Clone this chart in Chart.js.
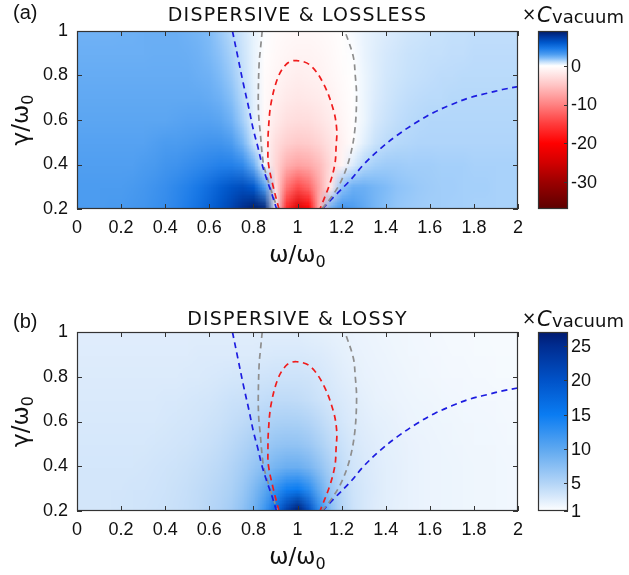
<!DOCTYPE html>
<html>
<head>
<meta charset="utf-8">
<script src="https://cdn.jsdelivr.net/npm/chart.js@4.4.0/dist/chart.umd.min.js"></script>
<style>
  body { margin: 0; background: #fff; width: 629px; height: 575px; overflow: hidden; }
  canvas { display: block; }
</style>
</head>
<body>
<canvas id="lossless" width="629" height="300"></canvas>
<canvas id="lossy" width="629" height="275"></canvas>
<script>
  // ---- axes ----
  const omegaTicks = [0, 0.2, 0.4, 0.6, 0.8, 1, 1.2, 1.4, 1.6, 1.8, 2];
  const omegaTickLabels = ['0', '0.2', '0.4', '0.6', '0.8', '1', '1.2', '1.4', '1.6', '1.8', '2'];
  const gammaTicks = [0.2, 0.4, 0.6, 0.8, 1];
  const gammaTickLabels = ['0.2', '0.4', '0.6', '0.8', '1'];

  // ---- heatmap grid (cell centres) ----
  const omegaGrid = [0, 0.05, 0.1, 0.15, 0.2, 0.25, 0.3, 0.35, 0.4, 0.45, 0.5, 0.55, 0.6, 0.65, 0.7, 0.75, 0.8, 0.85, 0.9, 0.95,
    1, 1.05, 1.1, 1.15, 1.2, 1.25, 1.3, 1.35, 1.4, 1.45, 1.5, 1.55, 1.6, 1.65, 1.7, 1.75, 1.8, 1.85, 1.9, 1.95, 2];
  const gammaGrid = [0.2, 0.3, 0.4, 0.5, 0.6, 0.7, 0.8, 0.9, 1.0];

  // (a) dispersive & lossless, x C_vacuum, one row per gamma
  const losslessG02 = [3.0,3.0,3.0,3.1,3.1,3.2,3.3,3.5,3.7,4.0, 4.4,4.9,5.5,6.2,7.0,8.0,8.8,8.5,0.5,-17, -24,-20,-6,2.5,3.4,3.0,2.6,2.2,1.9,1.7, 1.6,1.55,1.5,1.5,1.45,1.45,1.4,1.4,1.4,1.4,1.4];
  const losslessG03 = [3.0,3.0,3.0,3.0,3.0,3.1,3.2,3.4,3.6,3.9, 4.2,4.6,5.1,5.7,6.2,6.5,6.0,3.0,-3,-11, -14,-12,-7,-1.8,1.8,2.4,2.4,2.2,2.0,1.8, 1.7,1.6,1.55,1.5,1.5,1.45,1.45,1.45,1.4,1.4,1.4];
  const losslessG04 = [2.9,2.9,2.9,2.9,2.9,2.9,3.0,3.1,3.3,3.4, 3.6,3.8,4.0,4.2,4.2,3.8,2.4,0.2,-3.5,-6.5, -7.5,-7.0,-5.5,-3.0,-0.9,0.6,1.2,1.45,1.55,1.55, 1.5,1.5,1.5,1.45,1.45,1.45,1.4,1.4,1.4,1.4,1.4];
  const losslessG05 = [2.8,2.8,2.8,2.8,2.8,2.8,2.8,2.9,3.0,3.0, 3.1,3.2,3.3,3.3,3.0,2.2,0.9,-0.8,-2.8,-4.0, -4.5,-4.2,-3.5,-2.3,-1.1,-0.2,0.5,0.9,1.1,1.2, 1.25,1.3,1.3,1.3,1.3,1.3,1.3,1.3,1.3,1.3,1.3];
  const losslessG06 = [2.7,2.7,2.7,2.7,2.7,2.7,2.7,2.7,2.7,2.75, 2.8,2.8,2.8,2.7,2.3,1.5,0.5,-0.6,-1.8,-2.6, -2.9,-2.8,-2.3,-1.6,-0.8,-0.2,0.3,0.7,0.9,1.05, 1.15,1.2,1.25,1.25,1.25,1.25,1.25,1.25,1.25,1.25,1.25];
  const losslessG07 = [2.6,2.6,2.6,2.6,2.6,2.6,2.6,2.6,2.6,2.6, 2.6,2.6,2.5,2.3,1.9,1.2,0.5,-0.4,-1.2,-1.8, -2.0,-1.9,-1.6,-1.1,-0.5,-0.1,0.3,0.6,0.8,0.95, 1.05,1.1,1.15,1.15,1.2,1.2,1.2,1.2,1.2,1.2,1.2];
  const losslessG08 = [2.5,2.5,2.5,2.5,2.5,2.5,2.5,2.5,2.5,2.5, 2.5,2.4,2.3,2.0,1.6,1.0,0.4,-0.3,-0.8,-1.2, -1.4,-1.3,-1.1,-0.7,-0.3,0.0,0.3,0.55,0.75,0.85, 0.95,1.0,1.05,1.1,1.1,1.15,1.15,1.15,1.15,1.15,1.15];
  const losslessG09 = [2.4,2.4,2.4,2.4,2.4,2.4,2.4,2.45,2.45,2.45, 2.4,2.3,2.1,1.8,1.4,0.9,0.4,-0.1,-0.5,-0.8, -0.9,-0.9,-0.8,-0.5,-0.2,0.05,0.35,0.55,0.7,0.8, 0.9,0.95,1.0,1.0,1.05,1.05,1.1,1.1,1.1,1.1,1.1];
  const losslessG10 = [2.3,2.3,2.3,2.3,2.35,2.35,2.4,2.4,2.4,2.4, 2.3,2.2,2.0,1.6,1.2,0.8,0.4,0.05,-0.3,-0.5, -0.6,-0.6,-0.5,-0.3,-0.1,0.15,0.35,0.5,0.6,0.7, 0.8,0.85,0.9,0.95,1.0,1.0,1.05,1.05,1.05,1.05,1.05];

  // (b) dispersive & lossy
  const lossyG02 = [3.3,3.3,3.3,3.3,3.4,3.4,3.5,3.6,3.7,3.9, 4.1,4.4,4.9,5.3,6.0,7.2,9.0,12,17,23, 27,21,13,7.5,5.0,3.7,3.1,2.7,2.5,2.3, 2.2,2.1,2.0,1.95,1.9,1.85,1.8,1.8,1.75,1.7,1.7];
  const lossyG03 = [3.3,3.3,3.3,3.3,3.3,3.4,3.4,3.5,3.6,3.8, 4.0,4.3,4.6,5.0,5.5,6.5,8.0,10,12.5,14.5, 15,13,9.5,6.5,4.6,3.6,3.1,2.8,2.5,2.35, 2.2,2.1,2.0,1.95,1.9,1.85,1.8,1.8,1.75,1.7,1.7];
  const lossyG04 = [3.2,3.2,3.2,3.2,3.2,3.2,3.3,3.4,3.5,3.6, 3.8,4.0,4.3,4.6,5.1,5.8,6.7,7.7,8.6,9.2, 9.2,8.4,7.0,5.4,4.2,3.4,3.0,2.7,2.5,2.35, 2.2,2.1,2.0,1.95,1.9,1.85,1.8,1.8,1.75,1.7,1.7];
  const lossyG05 = [3.1,3.1,3.1,3.1,3.1,3.1,3.1,3.2,3.3,3.4, 3.5,3.7,3.9,4.2,4.6,5.1,5.7,6.3,6.8,7.0, 6.9,6.4,5.5,4.5,3.7,3.1,2.8,2.6,2.4,2.3, 2.15,2.05,2.0,1.9,1.85,1.8,1.75,1.75,1.7,1.65,1.65];
  const lossyG06 = [3.0,3.0,3.0,3.0,3.0,3.0,3.0,3.0,3.1,3.2, 3.3,3.4,3.6,3.8,4.1,4.4,4.8,5.2,5.5,5.6, 5.5,5.1,4.5,3.8,3.2,2.8,2.6,2.4,2.3,2.15, 2.0,1.95,1.9,1.85,1.8,1.75,1.7,1.7,1.65,1.6,1.6];
  const lossyG07 = [2.9,2.9,2.9,2.9,2.9,2.9,2.9,2.9,3.0,3.0, 3.1,3.2,3.3,3.5,3.7,3.8,4.0,4.2,4.4,4.4, 4.3,4.0,3.6,3.2,2.9,2.6,2.4,2.2,2.1,2.0, 1.9,1.85,1.8,1.75,1.7,1.65,1.65,1.6,1.6,1.55,1.55];
  const lossyG08 = [2.8,2.8,2.8,2.8,2.8,2.8,2.8,2.8,2.8,2.8, 2.9,2.9,3.0,3.1,3.2,3.3,3.4,3.5,3.6,3.6, 3.6,3.5,3.2,2.9,2.6,2.4,2.2,2.1,2.0,1.9, 1.8,1.75,1.7,1.65,1.6,1.6,1.55,1.55,1.5,1.5,1.5];
  const lossyG09 = [2.7,2.7,2.7,2.7,2.7,2.7,2.7,2.7,2.7,2.7, 2.7,2.8,2.8,2.8,2.8,2.8,2.8,2.9,3.0,3.0, 3.0,2.9,2.8,2.6,2.4,2.2,2.1,2.0,1.9,1.8, 1.75,1.7,1.65,1.6,1.55,1.55,1.5,1.5,1.45,1.45,1.45];
  const lossyG10 = [2.6,2.6,2.6,2.6,2.6,2.6,2.6,2.6,2.6,2.6, 2.6,2.6,2.6,2.6,2.6,2.6,2.6,2.6,2.6,2.6, 2.6,2.5,2.4,2.3,2.2,2.1,2.0,1.9,1.8,1.75, 1.7,1.65,1.6,1.55,1.5,1.5,1.45,1.45,1.4,1.4,1.4];

  const losslessGrid = [losslessG02, losslessG03, losslessG04, losslessG05, losslessG06, losslessG07, losslessG08, losslessG09, losslessG10];
  const lossyGrid = [lossyG02, lossyG03, lossyG04, lossyG05, lossyG06, lossyG07, lossyG08, lossyG09, lossyG10];

  // ---- dashed contour curves (same in both panels) ----
  const blueLeftOmega = [0.705, 0.73, 0.754, 0.78, 0.80, 0.82, 0.838, 0.86, 0.883, 0.905];
  const blueLeftGamma = [1.0, 0.88, 0.765, 0.65, 0.555, 0.48, 0.405, 0.335, 0.27, 0.2];
  const grayLeftOmega = [0.84, 0.832, 0.826, 0.822, 0.824, 0.83, 0.845, 0.86, 0.875, 0.91];
  const grayLeftGamma = [1.0, 0.92, 0.855, 0.705, 0.62, 0.555, 0.405, 0.35, 0.30, 0.2];
  const redOmega = [0.916, 0.89, 0.868, 0.866, 0.868, 0.88, 0.913, 0.954, 0.996, 1.057, 1.117, 1.163, 1.178, 1.175, 1.17, 1.147, 1.102];
  const redGamma = [0.2, 0.3, 0.405, 0.48, 0.555, 0.675, 0.795, 0.855, 0.867, 0.847, 0.765, 0.645, 0.555, 0.48, 0.405, 0.315, 0.2];
  const grayRightOmega = [1.11, 1.155, 1.2, 1.238, 1.26, 1.268, 1.262, 1.253, 1.215];
  const grayRightGamma = [0.2, 0.255, 0.33, 0.435, 0.555, 0.705, 0.8, 0.885, 1.0];
  const blueRightOmega = [1.112, 1.17, 1.24, 1.30, 1.374, 1.45, 1.54, 1.62, 1.70, 1.78, 1.86, 1.93, 2.0];
  const blueRightGamma = [0.2, 0.26, 0.33, 0.40, 0.47, 0.53, 0.59, 0.635, 0.67, 0.70, 0.72, 0.737, 0.75];

  // ---- colour bars ----
  const losslessRange = [-37, 9];
  const losslessBarTicks = [0, -10, -20, -30];
  const losslessBarLabels = ['0', '-10', '-20', '-30'];
  const lossyRange = [1, 27];
  const lossyBarTicks = [25, 20, 15, 10, 5, 1];
  const lossyBarLabels = ['25', '20', '15', '10', '5', '1'];

  const losslessStops = [
    [-37, '#5c0000'], [-30, '#9c0000'], [-25, '#d20000'], [-20, '#ff0000'], [-15, '#ff3c3c'],
    [-10, '#ff8282'], [-5, '#ffc4c4'], [0, '#ffffff'], [1, '#c4e0fb'], [2, '#80bcf8'],
    [3, '#4c9cf0'], [4.5, '#1a7ae8'], [6, '#0058cc'], [7.5, '#0038a0'], [9, '#001a66'],
  ];
  const lossyStops = [
    [1, '#ffffff'], [3, '#d8e9fb'], [5, '#b4d5f7'], [10, '#5ea8f0'], [15, '#0a7cf2'],
    [20, '#0052c8'], [25, '#002c90'], [27, '#001a70'],
  ];

  const TEXT = '#111';
  const SANS = '"Liberation Sans", Arial, sans-serif';
  const WIDE = '"DejaVu Sans", sans-serif';

  function hexRgb(h) {
    return [1, 3, 5].map((i) => parseInt(h.slice(i, i + 2), 16));
  }

  function colourAt(stops, v) {
    if (v <= stops[0][0]) return hexRgb(stops[0][1]);
    for (let i = 1; i < stops.length; i++) {
      if (v <= stops[i][0]) {
        const t = (v - stops[i - 1][0]) / (stops[i][0] - stops[i - 1][0]);
        const a = hexRgb(stops[i - 1][1]);
        const b = hexRgb(stops[i][1]);
        return a.map((c, k) => Math.round(c + (b[k] - c) * t));
      }
    }
    return hexRgb(stops[stops.length - 1][1]);
  }

  function zip(xs, ys) {
    return xs.map((x, i) => ({ x, y: ys[i] }));
  }

  function curve(xs, ys, colour) {
    return {
      data: zip(xs, ys),
      borderColor: colour,
      borderWidth: 1.7,
      borderDash: [6, 4.5],
      pointRadius: 0,
      tension: 0.35,
      fill: false,
      showLine: true,
    };
  }

  /**
   * Heatmap drawn as a tiny image, stretched over the cell extents
   */
  function heatmapPlugin(grid, stops) {
    return {
      id: 'heatmap',
      beforeDatasetsDraw(chart) {
        const { ctx, chartArea: a, scales: { x, y } } = chart;
        const cols = omegaGrid.length;
        const rows = gammaGrid.length;
        const off = document.createElement('canvas');
        off.width = cols;
        off.height = rows;
        const octx = off.getContext('2d');
        const img = octx.createImageData(cols, rows);
        for (let r = 0; r < rows; r++) {
          const row = grid[rows - 1 - r];
          for (let c = 0; c < cols; c++) {
            const rgb = colourAt(stops, row[c]);
            const k = (r * cols + c) * 4;
            img.data[k] = rgb[0];
            img.data[k + 1] = rgb[1];
            img.data[k + 2] = rgb[2];
            img.data[k + 3] = 255;
          }
        }
        octx.putImageData(img, 0, 0);

        const hx = (omegaGrid[1] - omegaGrid[0]) / 2;
        const hy = (gammaGrid[1] - gammaGrid[0]) / 2;
        const left = x.getPixelForValue(omegaGrid[0] - hx);
        const right = x.getPixelForValue(omegaGrid[cols - 1] + hx);
        const top = y.getPixelForValue(gammaGrid[rows - 1] + hy);
        const bottom = y.getPixelForValue(gammaGrid[0] - hy);

        ctx.save();
        ctx.beginPath();
        ctx.rect(a.left, a.top, a.width, a.height);
        ctx.clip();
        ctx.imageSmoothingEnabled = true;
        ctx.drawImage(off, left, top, right - left, bottom - top);
        ctx.restore();
      },
    };
  }

  /**
   * Box frame with inward ticks on all four sides
   */
  const framePlugin = {
    id: 'frame',
    afterDatasetsDraw(chart) {
      const { ctx, chartArea: a, scales: { x, y } } = chart;
      ctx.save();
      ctx.strokeStyle = '#333';
      ctx.lineWidth = 1;
      ctx.beginPath();
      x.ticks.forEach((t) => {
        const px = Math.round(x.getPixelForValue(t.value)) + 0.5;
        ctx.moveTo(px, a.bottom);
        ctx.lineTo(px, a.bottom - 5);
        ctx.moveTo(px, a.top);
        ctx.lineTo(px, a.top + 5);
      });
      y.ticks.forEach((t) => {
        const py = Math.round(y.getPixelForValue(t.value)) + 0.5;
        ctx.moveTo(a.left, py);
        ctx.lineTo(a.left + 5, py);
        ctx.moveTo(a.right, py);
        ctx.lineTo(a.right - 5, py);
      });
      ctx.stroke();
      ctx.lineWidth = 1.2;
      ctx.strokeRect(a.left + 0.5, a.top + 0.5, a.width - 1, a.height - 1);
      ctx.restore();
    },
  };

  /**
   * Colour bar, headers and axis titles
   */
  function decorPlugin(cfg) {
    return {
      id: 'decor',
      afterDraw(chart) {
        const { ctx, chartArea: a, scales: { cb } } = chart;
        const barL = a.right + 20;
        const barR = a.right + 50;
        const [lo, hi] = cfg.range;
        const yTop = cb.getPixelForValue(hi);
        const yBot = cb.getPixelForValue(lo);

        ctx.save();
        const g = ctx.createLinearGradient(0, yTop, 0, yBot);
        cfg.stops.forEach(([v, col]) => {
          g.addColorStop((hi - v) / (hi - lo), col);
        });
        ctx.fillStyle = g;
        ctx.fillRect(barL, yTop, barR - barL, yBot - yTop);
        ctx.strokeStyle = '#333';
        ctx.lineWidth = 1.2;
        ctx.strokeRect(barL + 0.5, yTop + 0.5, barR - barL - 1, yBot - yTop - 1);

        ctx.lineWidth = 1;
        ctx.beginPath();
        cfg.barTicks.forEach((v) => {
          const py = Math.round(cb.getPixelForValue(v)) + 0.5;
          ctx.moveTo(barR, py);
          ctx.lineTo(barR - 4, py);
        });
        ctx.stroke();

        ctx.fillStyle = TEXT;
        ctx.font = `18px ${SANS}`;
        ctx.textAlign = 'left';
        ctx.textBaseline = 'middle';
        cfg.barTicks.forEach((v, i) => {
          ctx.fillText(cfg.barLabels[i], barR + 3, cb.getPixelForValue(v) + 1);
        });

        // header
        ctx.textBaseline = 'alphabetic';
        ctx.font = `20px ${SANS}`;
        ctx.fillText(cfg.tag, 13, cfg.tagBase);

        ctx.font = `19px ${WIDE}`;
        ctx.letterSpacing = '1.2px';
        ctx.textAlign = 'center';
        ctx.fillText(cfg.title, (a.left + a.right) / 2, cfg.headBase);
        ctx.letterSpacing = '0px';

        ctx.textAlign = 'left';
        ctx.font = `17px ${WIDE}`;
        ctx.fillText('\u00d7', a.right + 4, cfg.headBase - 1);
        ctx.font = `italic 21px ${WIDE}`;
        ctx.fillText('C', a.right + 19, cfg.headBase + 1);
        ctx.font = `18px ${WIDE}`;
        ctx.fillText('vacuum', a.right + 34, cfg.headBase + 2);

        // x axis title
        const cx = (a.left + a.right) / 2;
        ctx.font = `23px ${WIDE}`;
        const main = '\u03c9/\u03c9';
        const mw = ctx.measureText(main).width;
        ctx.font = `16px ${WIDE}`;
        const sw = ctx.measureText('0').width;
        const x0 = cx - (mw + sw) / 2;
        const xb = a.bottom + 53;
        ctx.font = `23px ${WIDE}`;
        ctx.fillText(main, x0, xb);
        ctx.font = `16px ${WIDE}`;
        ctx.fillText('0', x0 + mw, xb + 5);

        // y axis title
        ctx.translate(28, (a.top + a.bottom) / 2);
        ctx.rotate(-Math.PI / 2);
        ctx.font = `23px ${WIDE}`;
        const ym = '\u03b3/\u03c9';
        const yw = ctx.measureText(ym).width;
        const y0 = -(yw + sw) / 2;
        ctx.fillText(ym, y0, 0);
        ctx.font = `16px ${WIDE}`;
        ctx.fillText('0', y0 + yw, 5);
        ctx.restore();
      },
    };
  }

  function makePanel(id, cfg) {
    const canvas = document.getElementById(id);
    const xHeight = canvas.height - cfg.plotBottom;
    return new Chart(canvas, {
      type: 'scatter',
      data: {
        datasets: [
          curve(blueLeftOmega, blueLeftGamma, '#1c1ce0'),
          curve(grayLeftOmega, grayLeftGamma, '#8e8e8e'),
          curve(redOmega, redGamma, '#f01c1c'),
          curve(grayRightOmega, grayRightGamma, '#8e8e8e'),
          curve(blueRightOmega, blueRightGamma, '#1c1ce0'),
        ],
      },
      options: {
        responsive: false,
        animation: false,
        devicePixelRatio: 1,
        layout: { padding: { left: 0, right: 111, top: cfg.plotTop, bottom: 0 } },
        scales: {
          x: {
            type: 'linear',
            min: 0,
            max: 2,
            afterBuildTicks: (s) => { s.ticks = omegaTicks.map((v) => ({ value: v })); },
            afterFit: (s) => { s.height = xHeight; },
            grid: { display: false, drawTicks: false },
            border: { display: false },
            ticks: {
              autoSkip: false,
              maxRotation: 0,
              padding: 8,
              color: TEXT,
              font: { family: SANS, size: 18 },
              callback: (v, i) => omegaTickLabels[i],
            },
          },
          y: {
            type: 'linear',
            min: 0.2,
            max: 1,
            afterBuildTicks: (s) => { s.ticks = gammaTicks.map((v) => ({ value: v })); },
            afterFit: (s) => { s.width = 77; },
            grid: { display: false, drawTicks: false },
            border: { display: false },
            ticks: {
              autoSkip: false,
              padding: 9,
              color: TEXT,
              font: { family: SANS, size: 18 },
              callback: (v, i) => gammaTickLabels[i],
            },
          },
          cb: {
            type: 'linear',
            position: 'right',
            display: false,
            min: cfg.range[0],
            max: cfg.range[1],
          },
        },
        plugins: {
          legend: { display: false },
          tooltip: { enabled: false },
        },
      },
      plugins: [heatmapPlugin(cfg.grid, cfg.stops), framePlugin, decorPlugin(cfg)],
    });
  }

  makePanel('lossless', {
    plotTop: 31,
    plotBottom: 209,
    grid: losslessGrid,
    stops: losslessStops,
    range: losslessRange,
    barTicks: losslessBarTicks,
    barLabels: losslessBarLabels,
    tag: '(a)',
    tagBase: 19,
    title: 'DISPERSIVE & LOSSLESS',
    headBase: 21,
  });

  makePanel('lossy', {
    plotTop: 32,
    plotBottom: 211,
    grid: lossyGrid,
    stops: lossyStops,
    range: lossyRange,
    barTicks: lossyBarTicks,
    barLabels: lossyBarLabels,
    tag: '(b)',
    tagBase: 28,
    title: 'DISPERSIVE & LOSSY',
    headBase: 25,
  });
</script>
</body>
</html>
